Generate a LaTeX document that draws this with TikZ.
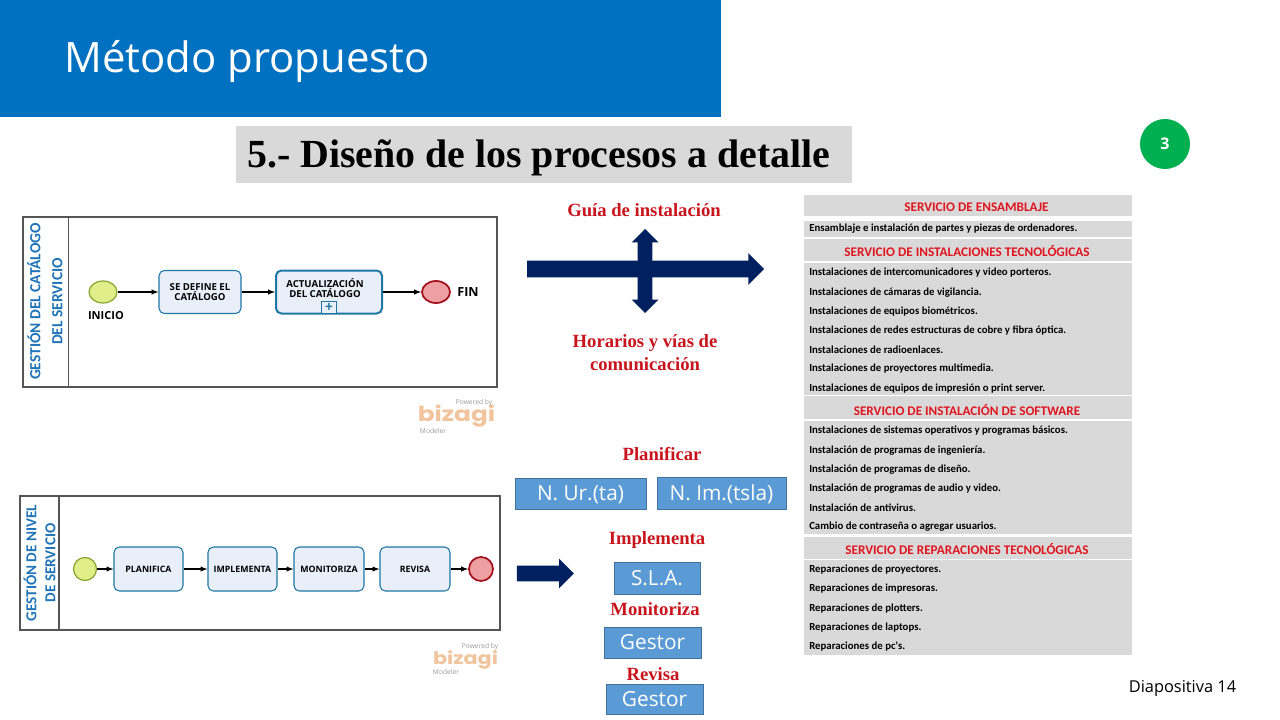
\documentclass[tikz,border=0pt]{standalone}
\usepackage{fontspec}
\usepackage{tikz}
\usepackage{xcolor}
\setmainfont{Liberation Serif}
\newfontfamily\slidefont{Open Sans}
\newfontfamily\tablefont{Carlito}
\newfontfamily\logofont{Poppins}
\usetikzlibrary{arrows,shapes,shapes.arrows,positioning}
\definecolor{headerblue}{HTML}{0070C0}
\definecolor{panelgrey}{HTML}{D9D9D9}
\definecolor{badgegreen}{HTML}{00B050}
\definecolor{darknavy}{HTML}{002060}
\definecolor{labelred}{HTML}{C8141C}
\definecolor{tablered}{HTML}{E0141E}
\definecolor{boxblue}{HTML}{5B9BD5}
\definecolor{boxedge}{HTML}{41719C}
\definecolor{taskfill}{HTML}{E9EFF9}
\definecolor{taskedge}{HTML}{1F77A4}
\definecolor{lanetext}{HTML}{1F73B7}
\definecolor{lineedge}{HTML}{555555}
\definecolor{logoorange}{HTML}{F0C49C}
\definecolor{begfill}{HTML}{E0EE8A}
\definecolor{begedge}{HTML}{86A52E}
\definecolor{endfill}{HTML}{EE9FA2}
\definecolor{endedge}{HTML}{A3101A}

\begin{document}
\begin{tikzpicture}[
        x=0.75pt, y=-0.75pt,
        boxsize/.style 2 args={minimum width=#1*0.75pt, minimum height=#2*0.75pt},
        panel/.style={rectangle, fill=panelgrey, inner sep=0pt},
        lane/.style={rectangle, draw=lineedge, line width=0.9pt, inner sep=0pt},
        lanetitle/.style={rotate=90, align=center, inner sep=0pt, text=lanetext,
                      font=\tablefont\bfseries\fontsize{11.6}{16.5}\selectfont},
        task/.style={rectangle, draw=taskedge, fill=taskfill, line width=0.8pt, rounded corners=4pt,
                      align=center, inner sep=0pt, font=\slidefont\bfseries\fontsize{6.6}{8}\selectfont},
        begevent/.style={ellipse, draw=begedge, fill=begfill, line width=0.9pt, inner sep=0pt},
        endevent/.style={ellipse, draw=endedge, fill=endfill, line width=1.3pt, inner sep=0pt},
        eventtext/.style={inner sep=0pt, font=\slidefont\bfseries\fontsize{8.3}{10}\selectfont},
        line/.style={draw, black, line width=0.8pt, -latex},
        infobox/.style={rectangle, draw=boxedge, fill=boxblue, text=white, inner sep=0pt, text height=12pt, text depth=1pt,
                      font=\slidefont\fontsize{15.6}{17}\selectfont},
        redlabel/.style={inner sep=0pt, align=center, text=labelred, font=\bfseries\fontsize{14}{17.5}\selectfont},
        bigarrow/.style={single arrow, fill=darknavy, inner sep=0pt, text depth=0pt, single arrow head extend=#1*0.75pt},
        rowhead/.style={inner sep=0pt, text=tablered, font=\tablefont\bfseries\fontsize{9.9}{11}\selectfont},
        rowtext/.style={anchor=west, inner sep=0pt, font=\tablefont\bfseries\fontsize{8.1}{10}\selectfont},
        logoword/.style={inner sep=0pt, text=logoorange, transform shape, xscale=1.2, font=\logofont\bfseries\fontsize{15.5}{16}\selectfont},
        logosmall/.style={inner sep=0pt, text=black!40, font=\slidefont\fontsize{5}{6}\selectfont}
    ]
    \useasboundingbox (0,0) rectangle (1280,720);

    % Header
    \node [rectangle, fill=headerblue, inner sep=0pt, boxsize={721}{117}, anchor=north west] (header) at (0,0) {};
    \node [anchor=west, inner sep=0pt, text=white, font=\slidefont\fontsize{31.4}{34}\selectfont] (title) at (64,61) {Método propuesto};
    \node [panel, boxsize={616}{57}] (headingbar) at (544,154.5) {};
    \node [anchor=west, inner sep=0pt, font=\bfseries\fontsize{29.9}{32}\selectfont] (heading) at (247,157.5) {5.- Diseño de los procesos a detalle};
    \node [circle, fill=badgegreen, boxsize={50}{50}, inner sep=0pt, text=white, font=\slidefont\bfseries\fontsize{12}{14}\selectfont] (badge) at (1165,144) {3};
    \node [inner sep=0pt, font=\slidefont\fontsize{12.3}{14}\selectfont] (footer) at (1182.5,688) {Diapositiva 14};

    % Catalogo
    \node [lane, boxsize={474}{170}] (lane1) at (260,302) {};
    \node [lane, boxsize={45.5}{170}] (lane1head) at (46,302) {};
    \node [lanetitle] (lane1title) at (45,301.5) {GESTIÓN DEL CATÁLOGO\\DEL SERVICIO};
    \node [begevent, boxsize={28}{22}] (inicio) at (103,292) {};
    \node [task, boxsize={82}{43}, font=\slidefont\bfseries\fontsize{7.2}{7.4}\selectfont] (define) at (200,292) {SE DEFINE EL\\CATÁLOGO};
    \node [task, boxsize={106}{43}, line width=1.5pt] (actualiza) at (329,292) {};
    \node [inner sep=0pt, align=center, font=\slidefont\bfseries\fontsize{7.2}{7.5}\selectfont] (actualizatext) at (325,288) {ACTUALIZACIÓN\\DEL CATÁLOGO};
    \node [rectangle, draw=taskedge, line width=1.1pt, fill=taskfill, boxsize={15}{12}, inner sep=0pt, text=taskedge, font=\tablefont\bfseries\fontsize{11}{10}\selectfont] (plusbox) at (329,307.5) {+};
    \node [endevent, boxsize={28}{22}] (fin) at (436,292) {};
    \node [eventtext] (iniciotext) at (106,316) {INICIO};
    \node [eventtext, font=\slidefont\bfseries\fontsize{9.4}{10}\selectfont] (fintext) at (468,292) {FIN};
    \node [logoword] (logo1) at (456.5,416) {bizagi};
    \node [logosmall] (logo1top) at (474,402.5) {Powered by};
    \node [logosmall] (logo1low) at (433,431) {Modeler};

    \draw [line] (inicio) -- (define);
    \draw [line] (define) -- (actualiza);
    \draw [line] (actualiza) -- (fin);

    % Nivel de servicio
    \node [lane, boxsize={480}{134}] (lane2) at (260,563) {};
    \node [lane, boxsize={39}{134}] (lane2head) at (39.5,563) {};
    \node [lanetitle, font=\tablefont\bfseries\fontsize{11.4}{14.2}\selectfont] (lane2title) at (39.5,563) {GESTIÓN DE NIVEL\\DE SERVICIO};
    \node [begevent, boxsize={23}{23}] (inicio2) at (85,569) {};
    \node [task, boxsize={69}{44}] (planifica) at (148.5,569) {PLANIFICA};
    \node [task, boxsize={69}{44}] (implementa) at (242.5,569) {IMPLEMENTA};
    \node [task, boxsize={70}{44}] (monitoriza) at (329,569) {MONITORIZA};
    \node [task, boxsize={70}{44}] (revisa) at (415,569) {REVISA};
    \node [endevent, boxsize={24}{24}] (fin2) at (481,569) {};
    \node [logoword, font=\logofont\bfseries\fontsize{13}{14}\selectfont] (logo2) at (465.5,660) {bizagi};
    \node [logosmall] (logo2top) at (480,647) {Powered by};
    \node [logosmall] (logo2low) at (446,672) {Modeler};

    \draw [line] (inicio2) -- (planifica);
    \draw [line] (planifica) -- (implementa);
    \draw [line] (implementa) -- (monitoriza);
    \draw [line] (monitoriza) -- (revisa);
    \draw [line] (revisa) -- (fin2);

    % Flechas
    \node [bigarrow=7.5, text height=16*0.75pt, minimum height=237*0.75pt] (arrowmain) at (641.5,269) {};
    \node [double arrow, fill=darknavy, inner sep=0pt, rotate=90, text height=14*0.75pt, text depth=0pt,
           double arrow head extend=6*0.75pt, minimum height=84*0.75pt] (arrowcross) at (645,271) {};
    \node [bigarrow=7, text height=15*0.75pt, minimum height=57*0.75pt] (arrowsla) at (541.5,573.5) {};

    % Labels
    \node [redlabel] (guia) at (644,210) {Guía de instalación};
    \node [redlabel] (horarios) at (645,352.5) {Horarios y vías de\\comunicación};
    \node [redlabel] (planificar) at (662,454) {Planificar};
    \node [redlabel] (implementar) at (657,540) {Implementa};
    \node [redlabel] (monitorizar) at (655,609) {Monitoriza};
    \node [redlabel] (revisar) at (653,674) {Revisa};
    \node [infobox, boxsize={131}{31}] (nur) at (580.5,493.5) {N. Ur.(ta)};
    \node [infobox, boxsize={129}{32}] (nim) at (721.5,493) {N. Im.(tsla)};
    \node [infobox, boxsize={86}{32}] (sla) at (657,578) {S.L.A.};
    \node [infobox, boxsize={97}{31}] (gestor1) at (652.5,642.5) {Gestor};
    \node [infobox, boxsize={97}{30}] (gestor2) at (654.5,699) {Gestor};

    % Tabla
    \foreach \i/\ytop/\yhigh in {1/195/21, 2/221/16, 3/239/22, 4/263/132, 5/396/23, 6/421/113, 7/537/22, 8/560/95}
        \node [panel, boxsize={328}{\yhigh}, anchor=north west] (band\i) at (804,\ytop) {};
    \node [rowhead] (head1) at (976.5,207.5) {SERVICIO DE ENSAMBLAJE};
    \node [rowhead] (head2) at (967,251.5) {SERVICIO DE INSTALACIONES TECNOLÓGICAS};
    \node [rowhead] (head3) at (967,409.5) {SERVICIO DE INSTALACIÓN DE SOFTWARE};
    \node [rowhead] (head4) at (967,548.5) {SERVICIO DE REPARACIONES TECNOLÓGICAS};
    \foreach \i/\ypos/\rowname in {
        1/229/Ensamblaje e instalación de partes y piezas de ordenadores.,
        2/272.5/Instalaciones de intercomunicadores y video porteros.,
        3/292.5/Instalaciones de cámaras de vigilancia.,
        4/311.5/Instalaciones de equipos biométricos.,
        5/330.5/Instalaciones de redes estructuras de cobre y fibra óptica.,
        6/349.5/Instalaciones de radioenlaces.,
        7/368.5/Instalaciones de proyectores multimedia.,
        8/389/Instalaciones de equipos de impresión o print server.,
        9/431/Instalaciones de sistemas operativos y programas básicos.,
        10/451/Instalación de programas de ingeniería.,
        11/470/Instalación de programas de diseño.,
        12/489/Instalación de programas de audio y video.,
        13/508/Instalación de antivirus.,
        14/527/Cambio de contraseña o agregar usuarios.,
        15/570/Reparaciones de proyectores.,
        16/589/Reparaciones de impresoras.,
        17/608.5/Reparaciones de plotters.,
        18/627.5/Reparaciones de laptops.,
        19/647/Reparaciones de pc's.}
        \node [rowtext] (row\i) at (809,\ypos) {\rowname};
\end{tikzpicture}
\end{document}
